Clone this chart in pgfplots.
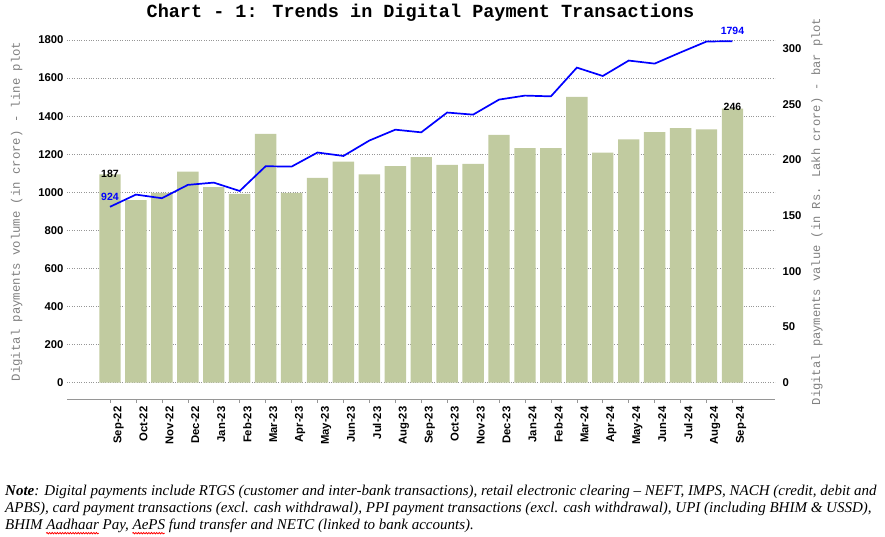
\documentclass[border=0pt]{standalone}
\usepackage{fontspec}
\setmainfont{Liberation Serif}
\newfontfamily\tickfont{Liberation Sans}
\newfontfamily\monofont{Liberation Mono}
\usepackage{pgfplots}
\pgfplotsset{compat=1.18}
\usetikzlibrary{decorations.pathmorphing}
\definecolor{barcol}{RGB}{193,203,160}
\definecolor{gridcol}{RGB}{150,150,150}
\definecolor{labcol}{RGB}{128,128,128}
\definecolor{axcol}{RGB}{150,150,150}
\definecolor{linecol}{RGB}{0,0,255}
\newlength\wA \newlength\wB \newlength\wC \newlength\wD
\newcommand\notefont{\itshape\fontsize{15}{17}\selectfont}

\pgfplotsset{common/.style={scale only axis, width=708pt, height=368.5pt,
  at={(67pt,138pt)}, anchor=south west, xmin=-1.658, xmax=25.64, clip=false,
  /pgf/number format/assume math mode=true, /pgf/number format/1000 sep={},
  tick label style={font=\tickfont\bfseries\fontsize{11.3}{13}\selectfont}}}

\begin{document}%
\settowidth{\wA}{\notefont BHIM }%
\settowidth{\wB}{\notefont Aadhaar}%
\settowidth{\wC}{\notefont BHIM Aadhaar Pay, }%
\settowidth{\wD}{\notefont AePS}%
\begin{tikzpicture}[x=1pt,y=1pt]
\useasboundingbox (0,0) rectangle (885,537);
\node[font=\monofont\bfseries\fontsize{18.5}{20}\selectfont, anchor=base] at (420.5,519.5) {Chart - 1: Trends in Digital Payment Transactions};

% left axis with grid
\begin{axis}[common, ymin=-85.6, ymax=1850, ytick={0,200,...,1800},
  ymajorgrids, grid style={gridcol, line width=0.7pt, dash pattern=on 0.8pt off 1.6pt},
  axis x line=none, axis y line*=left, y axis line style={draw=none}, ytick style={draw=none},
  ylabel={Digital payments volume (in crore) - line plot},
  ylabel style={at={(axis description cs:-0.0709,0.509)}, anchor=center, rotate=0,
    font=\monofont\fontsize{12.3}{14}\selectfont, text=labcol}]
\addplot[draw=none] coordinates {(0,0)};
\end{axis}

% right axis with bars
\begin{axis}[common, ymin=-14.6, ymax=316.2, ytick={0,50,...,300},
  axis y line*=right, axis x line*=bottom,
  y axis line style={draw=none}, ytick style={draw=none},
  x axis line style={axcol, line width=0.8pt, -},
  xtick={0,...,24},
  xticklabels={Sep-22,Oct-22,Nov-22,Dec-22,Jan-23,Feb-23,Mar-23,Apr-23,May-23,Jun-23,Jul-23,Aug-23,Sep-23,Oct-23,Nov-23,Dec-23,Jan-24,Feb-24,Mar-24,Apr-24,May-24,Jun-24,Jul-24,Aug-24,Sep-24},
  xtick style={axcol, line width=0.6pt}, tick align=outside, major tick length=4pt,
  xticklabel style={rotate=90, anchor=north east},
  ylabel={Digital payments value (in Rs. Lakh crore) - bar plot},
  ylabel style={at={(axis description cs:1.0593,0.509)}, anchor=center, rotate=0,
    font=\monofont\fontsize{12.1}{14}\selectfont, text=labcol}]
\addplot[ybar, bar width=21.4pt, fill=barcol, draw=none] coordinates {
(0,187) (1,164) (2,170.5) (3,189.5) (4,175.5) (5,169.5) (6,223.5) (7,170.5)
(8,184) (9,198.5) (10,187) (11,194.5) (12,202.5) (13,195.5) (14,196.5) (15,222.5)
(16,210.5) (17,210.5) (18,256.5) (19,206.5) (20,218.5) (21,225) (22,228.5) (23,227.5) (24,246)};
\node[font=\tickfont\bfseries\fontsize{10.5}{12}\selectfont] at (axis cs:0,187) [yshift=1pt] {187};
\node[font=\tickfont\bfseries\fontsize{10.5}{12}\selectfont] at (axis cs:24,246) [yshift=2pt] {246};
\end{axis}

% line on top
\begin{axis}[common, ymin=-85.6, ymax=1850, hide axis]
\addplot[linecol, line width=1.7pt] coordinates {
(0,924) (1,988) (2,969) (3,1039) (4,1051) (5,1007) (6,1137) (7,1135)
(8,1209) (9,1191) (10,1272) (11,1329) (12,1315) (13,1419) (14,1408) (15,1487)
(16,1508) (17,1504) (18,1655) (19,1611) (20,1692) (21,1676) (22,1735) (23,1792) (24,1794)};
\node[font=\tickfont\bfseries\fontsize{10.5}{12}\selectfont, text=linecol] at (axis cs:0,924) [yshift=9.5pt] {924};
\node[font=\tickfont\bfseries\fontsize{10.5}{12}\selectfont, text=linecol] at (axis cs:24,1794) [yshift=10pt] {1794};
\end{axis}

\begin{scope}[every node/.style={anchor=base west, inner sep=0pt, font=\notefont}]
\node at (5,41.5) {\textbf{Note}: Digital payments include RTGS (customer and inter-bank transactions), retail electronic clearing – NEFT, IMPS, NACH (credit, debit and};
\node at (5,24.5) {APBS), card payment transactions (excl. cash withdrawal), PPI payment transactions (excl. cash withdrawal), UPI (including BHIM \& USSD),};
\node at (5,7.5) {BHIM Aadhaar Pay, AePS fund transfer and NETC (linked to bank accounts).};
\end{scope}
\draw[red, line width=0.8pt, decorate, decoration={snake, amplitude=0.7pt, segment length=2.6pt}]
  ([xshift=\wA]5,3.8) -- ++(\wB,0);
\draw[red, line width=0.8pt, decorate, decoration={snake, amplitude=0.7pt, segment length=2.6pt}]
  ([xshift=\wC]5,3.8) -- ++(\wD,0);
\end{tikzpicture}%
\end{document}
